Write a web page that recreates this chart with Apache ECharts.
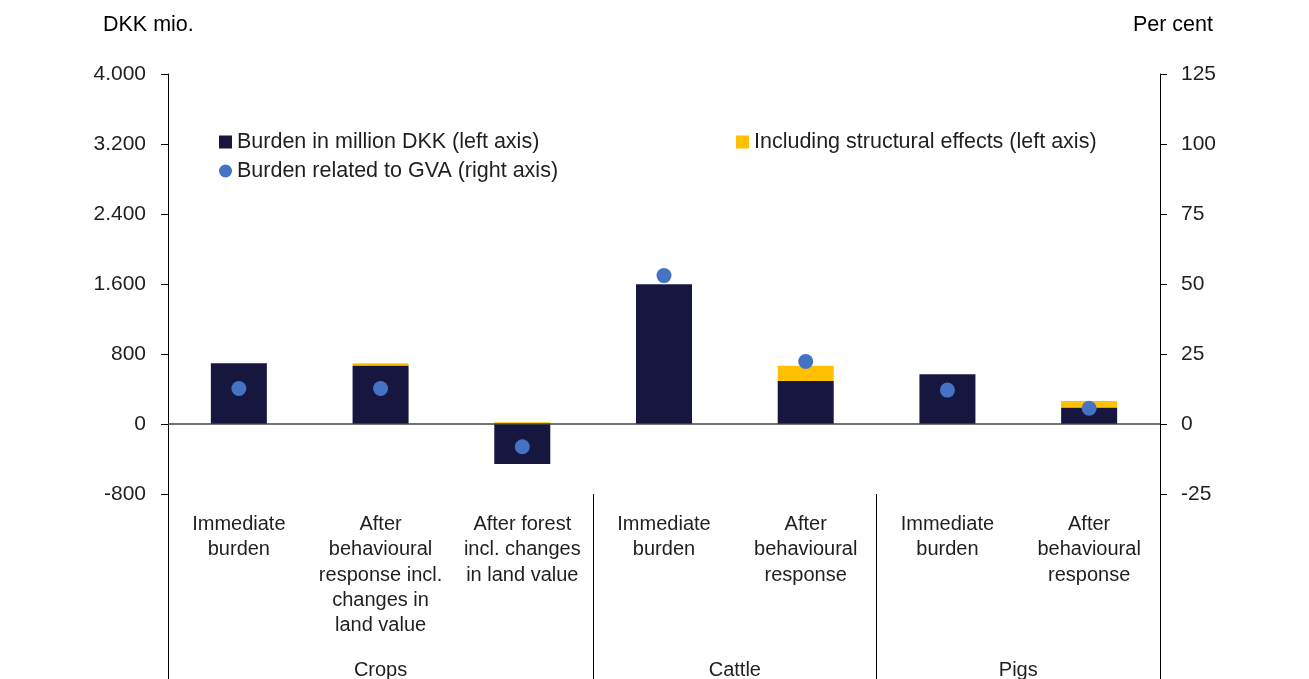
<!DOCTYPE html>
<html>
<head>
<meta charset="utf-8">
<script src="https://cdn.jsdelivr.net/npm/echarts@6/dist/echarts.min.js"></script>
<style>
  html, body { margin: 0; padding: 0; background: #fff; overflow: hidden; width: 1309px; height: 679px; }
  #chart { display: block; width: 1309px; height: 679px; }
</style>
</head>
<body>
<div id="chart"></div>
<script>
// Categories (bar positions) and the groups they belong to
const categories = [
  'Immediate\nburden',
  'After\nbehavioural\nresponse incl.\nchanges in\nland value',
  'After forest\nincl. changes\nin land value',
  'Immediate\nburden',
  'After\nbehavioural\nresponse',
  'Immediate\nburden',
  'After\nbehavioural\nresponse'
];
const groupNames = ['Crops', 'Cattle', 'Pigs'];
const groupSizes = [3, 2, 2];

// Series values
const burdenDKK = [695, 666, -457, 1597, 491, 568, 187];          // million DKK (left axis)
const structuralEffects = [null, 28, 20, null, 176, null, 76];    // million DKK (left axis)
const burdenGVA = [12.7, 12.7, -8.1, 53.0, 22.3, 12.1, 5.6];      // per cent (right axis)

// Axis ticks
const leftTicks = [-800, 0, 800, 1600, 2400, 3200, 4000];
const rightTicks = [-25, 0, 25, 50, 75, 100, 125];

const seriesNames = {
  burden: 'Burden in million DKK (left axis)',
  structural: 'Including structural effects (left axis)',
  gva: 'Burden related to GVA (right axis)'
};

// Group boundaries and centres on a 0..N scale
const boundaries = [0];
groupSizes.forEach(s => boundaries.push(boundaries[boundaries.length - 1] + s));
const centres = groupSizes.map((s, i) => boundaries[i] + s / 2);

const FONT = '"Liberation Sans", Arial, sans-serif';
const TXT = '#1f1f1f';
const fmtDK = v => {
  const s = Math.abs(v).toString().replace(/\B(?=(\d{3})+(?!\d))/g, '.');
  return (v < 0 ? '-' : '') + s;
};

const chart = echarts.init(document.getElementById('chart'), null, { width: 1309, height: 679 });
chart.setOption({
  animation: false,
  backgroundColor: '#fff',
  textStyle: { fontFamily: FONT, color: TXT },
  title: [
    { text: 'DKK mio.', left: 103, top: 14, padding: 0,
      textStyle: { fontFamily: FONT, fontSize: 21.5, fontWeight: 'normal', color: '#000' } },
    { text: 'Per cent', right: 96, top: 14, padding: 0,
      textStyle: { fontFamily: FONT, fontSize: 21.5, fontWeight: 'normal', color: '#000' } }
  ],
  legend: [
    {
      orient: 'vertical', left: 219, top: 131, padding: 0,
      itemWidth: 13, itemHeight: 13, itemGap: 7,
      textStyle: { fontFamily: FONT, fontSize: 21.5, color: TXT, lineHeight: 21 },
      data: [
        { name: seriesNames.burden, icon: 'rect' },
        { name: seriesNames.gva, icon: 'circle' }
      ],
      selectedMode: false
    },
    {
      orient: 'vertical', left: 736, top: 131, padding: 0,
      itemWidth: 13, itemHeight: 13,
      textStyle: { fontFamily: FONT, fontSize: 21.5, color: TXT, lineHeight: 21 },
      data: [{ name: seriesNames.structural, icon: 'rect' }],
      selectedMode: false
    }
  ],
  grid: {
    left: 168, right: 149, top: 74, bottom: 185,
    containLabel: false, outerBoundsMode: 'none'
  },
  xAxis: [
    {
      type: 'category',
      data: categories,
      position: 'bottom',
      axisLine: { show: false, onZero: false },
      axisTick: { show: false },
      axisLabel: {
        interval: 0, margin: 18, fontFamily: FONT, fontSize: 20,
        lineHeight: 25.3, color: TXT, align: 'center'
      }
    },
    {
      type: 'value',
      min: 0, max: categories.length,
      position: 'bottom',
      axisLine: { show: false, onZero: false },
      splitLine: { show: false },
      axisTick: {
        show: true, inside: false, length: 185,
        customValues: boundaries,
        lineStyle: { color: '#000', width: 1 }
      },
      axisLabel: {
        show: true, margin: 164, fontFamily: FONT, fontSize: 20,
        lineHeight: 25, color: TXT,
        customValues: centres,
        formatter: v => {
          const i = centres.findIndex(c => Math.abs(c - v) < 1e-6);
          return i >= 0 ? groupNames[i] : '';
        }
      }
    }
  ],
  yAxis: [
    {
      type: 'value',
      min: leftTicks[0], max: leftTicks[leftTicks.length - 1], interval: 800,
      position: 'left',
      axisLine: { show: true, onZero: false, lineStyle: { color: '#000', width: 1 } },
      axisTick: { show: true, inside: false, length: 7, lineStyle: { color: '#000' } },
      splitLine: { show: false },
      axisLabel: { margin: 22, fontFamily: FONT, fontSize: 21, color: TXT, formatter: fmtDK }
    },
    {
      type: 'value',
      min: rightTicks[0], max: rightTicks[rightTicks.length - 1], interval: 25,
      position: 'right',
      axisLine: { show: true, onZero: false, lineStyle: { color: '#000', width: 1 } },
      axisTick: { show: true, inside: false, length: 7, lineStyle: { color: '#000' } },
      splitLine: { show: false },
      axisLabel: { margin: 21, fontFamily: FONT, fontSize: 21, color: TXT }
    }
  ],
  series: [
    {
      name: seriesNames.burden,
      type: 'bar',
      stack: 'dkk',
      xAxisIndex: 0, yAxisIndex: 0,
      barWidth: 56,
      itemStyle: { color: '#16163f' },
      data: burdenDKK,
      markLine: {
        silent: true, symbol: 'none',
        label: { show: false },
        lineStyle: { color: '#444', width: 1.5, type: 'solid' },
        data: [{ yAxis: 0 }]
      },
      z: 2
    },
    {
      name: seriesNames.structural,
      type: 'bar',
      stack: 'dkk',
      xAxisIndex: 0, yAxisIndex: 0,
      barWidth: 56,
      itemStyle: { color: '#ffc000' },
      data: structuralEffects,
      z: 1
    },
    {
      name: seriesNames.gva,
      type: 'scatter',
      xAxisIndex: 0, yAxisIndex: 1,
      symbol: 'circle', symbolSize: 15,
      itemStyle: { color: '#4472c4', opacity: 1 },
      data: burdenGVA,
      z: 5
    }
  ]
});
</script>
</body>
</html>
